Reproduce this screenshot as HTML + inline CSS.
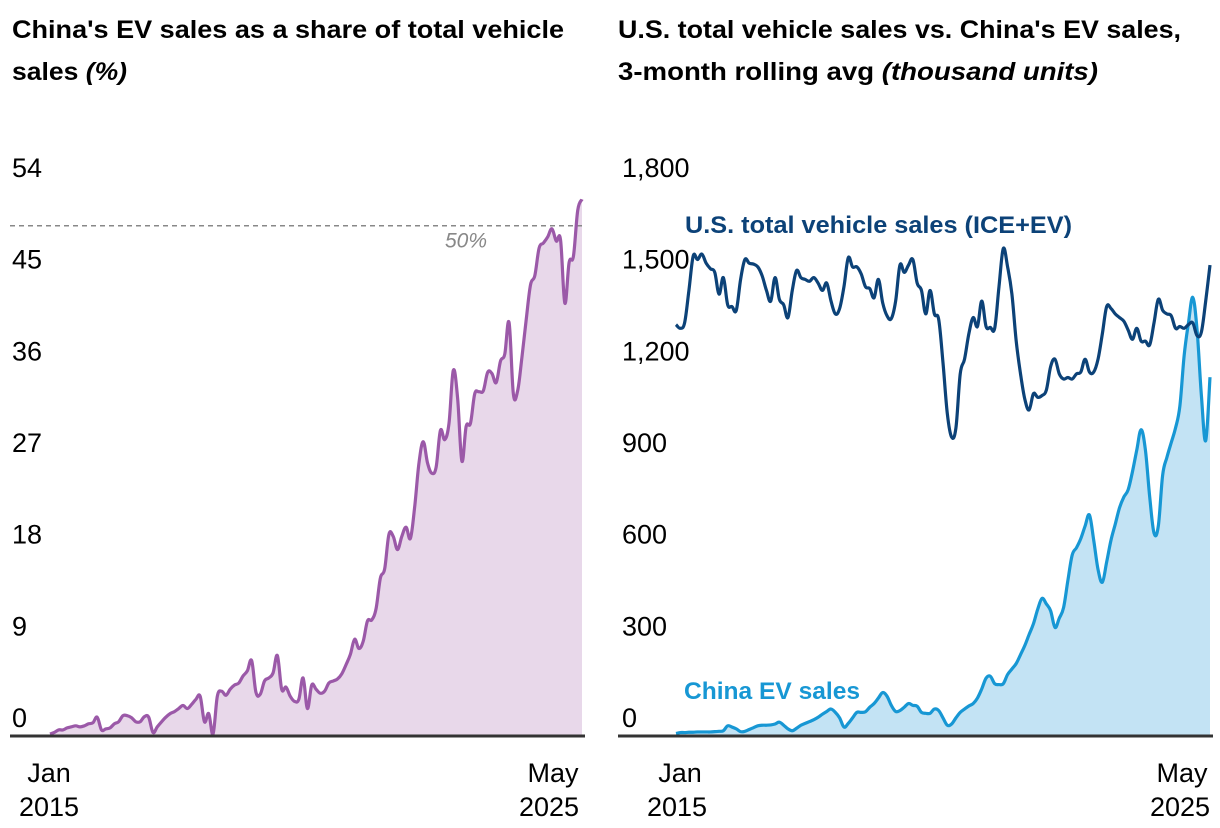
<!DOCTYPE html>
<html><head><meta charset="utf-8">
<style>
html,body{margin:0;padding:0;background:#fff;}
svg{display:block;font-family:"Liberation Sans",sans-serif;}
</style></head>
<body>
<svg id="chart" width="1220" height="828" viewBox="0 0 1220 828">
  <g font-weight="bold" font-size="25" fill="#000">
    <text x="12" y="38" textLength="552" lengthAdjust="spacingAndGlyphs">China's EV sales as a share of total vehicle</text>
    <text x="12" y="80" textLength="115" lengthAdjust="spacingAndGlyphs">sales <tspan font-style="italic">(%)</tspan></text>
  </g>
  <g font-weight="bold" font-size="25" fill="#000">
    <text x="618" y="38" textLength="563" lengthAdjust="spacingAndGlyphs">U.S. total vehicle sales vs. China's EV sales,</text>
    <text x="618" y="80" textLength="480" lengthAdjust="spacingAndGlyphs">3-month rolling avg <tspan font-style="italic">(thousand units)</tspan></text>
  </g>
  <g id="left"></g>
  <g id="right"></g>
</svg>
<script>
const shareValues = [0.1,0.25,0.5,0.5,0.7,0.8,0.9,0.8,0.9,1.1,1.2,1.75,0.5,0.6,0.7,1.1,1.3,1.9,1.9,1.7,1.3,1.3,1.8,1.75,0.25,0.8,1.3,1.75,2.1,2.3,2.6,2.9,2.6,3.0,3.5,3.8,1.3,2.1,0.1,3.8,4.3,3.9,4.5,4.9,5.1,5.8,6.3,7.3,4.2,4.0,5.3,5.6,6.1,7.8,4.5,4.7,3.8,3.3,3.5,5.6,2.6,4.9,4.5,4.1,4.3,5.1,5.3,5.5,6.0,6.9,7.9,9.4,8.5,9.2,11.2,11.3,12.4,15.4,16.3,19.7,19.5,18.2,19.5,20.4,19.3,22.4,26.7,28.8,26.7,25.7,26.3,29.9,29.0,30.6,35.8,33.1,26.9,30.3,30.6,33.5,33.7,33.8,35.6,35.5,34.6,36.7,37.4,40.5,33.5,33.8,37.1,40.8,44.2,45.1,47.8,48.3,48.9,49.7,48.5,48.6,42.4,46.4,47.0,51.5,52.6];
const usSales = [1343,1331,1349,1455,1568,1556,1574,1544,1526,1514,1443,1497,1408,1402,1390,1491,1556,1544,1541,1532,1503,1455,1420,1497,1426,1408,1366,1455,1520,1497,1491,1485,1497,1479,1455,1479,1420,1378,1396,1467,1562,1532,1532,1509,1467,1461,1431,1491,1414,1372,1363,1420,1538,1514,1538,1556,1479,1455,1378,1455,1378,1360,1218,1052,975,1005,1182,1230,1313,1366,1337,1420,1337,1334,1331,1467,1592,1532,1443,1289,1182,1099,1064,1117,1105,1111,1129,1206,1230,1182,1165,1170,1165,1182,1188,1230,1188,1188,1230,1313,1402,1396,1378,1366,1354,1325,1295,1331,1289,1289,1277,1349,1426,1390,1378,1372,1331,1337,1331,1343,1349,1307,1319,1420,1538];
const chinaEv = [5,8,8,9,9,10,10,10,10,11,12,14,30,26,20,11,12,18,24,30,32,32,33,36,42,32,20,14,22,32,38,44,50,58,68,77,85,74,56,26,38,56,74,74,76,91,103,121,139,127,97,77,80,91,103,97,94,74,71,71,85,80,56,32,36,56,74,85,95,103,121,151,186,192,168,165,168,198,216,234,263,293,329,364,412,447,429,406,352,382,417,506,589,613,643,684,720,637,542,500,566,637,690,744,779,803,862,933,999,933,779,661,684,850,909,957,1005,1076,1242,1349,1432,1325,1111,963,1171];
const leftTicks = [0,9,18,27,36,45,54];
const leftTickLabels = ["0","9","18","27","36","45","54"];
const rightTicks = [0,300,600,900,1200,1500,1800];
const rightTickLabels = ["0","300","600","900","1,200","1,500","1,800"];
const refLineValue = 50;

const NS = "http://www.w3.org/2000/svg";
function mk(parent, tag, attrs, text){
  const e = document.createElementNS(NS, tag);
  for (const k in attrs) e.setAttribute(k, attrs[k]);
  if (text !== undefined) e.textContent = text;
  parent.appendChild(e);
  return e;
}
function smoothPath(pts){
  let d = "M" + pts[0][0].toFixed(2) + "," + pts[0][1].toFixed(2);
  const t = 0.18;
  for (let i = 0; i < pts.length - 1; i++){
    const p0 = pts[Math.max(0,i-1)], p1 = pts[i], p2 = pts[i+1], p3 = pts[Math.min(pts.length-1,i+2)];
    const c1x = p1[0] + (p2[0]-p0[0])*t, c1y = p1[1] + (p2[1]-p0[1])*t;
    const c2x = p2[0] - (p3[0]-p1[0])*t, c2y = p2[1] - (p3[1]-p1[1])*t;
    d += "C" + c1x.toFixed(2)+","+c1y.toFixed(2)+" "+c2x.toFixed(2)+","+c2y.toFixed(2)+" "+p2[0].toFixed(2)+","+p2[1].toFixed(2);
  }
  return d;
}
const baseY = 735, topY = 185;

// LEFT
const L = document.getElementById('left');
const lx0 = 50, lx1 = 582, lMax = 54;
const lxs = i => lx0 + (lx1 - lx0) * i / (shareValues.length - 1);
const lys = v => baseY - (baseY - topY) * v / lMax;
leftTicks.forEach((v, i) => {
  const t = mk(L, 'text', {x: 12, y: lys(v) - 8, 'font-size': 27, fill: '#000'}, leftTickLabels[i]);
  
  
});
const lpts = shareValues.map((v, i) => [lxs(i), lys(v)]);
const lline = smoothPath(lpts);
const la = mk(L, 'path', {d: lline + "L" + lx1 + "," + baseY + "L" + lx0 + "," + baseY + "Z", fill: '#e8d8ea'});


const rl = mk(L, 'line', {x1: 10, x2: lx1, y1: lys(refLineValue), y2: lys(refLineValue), stroke: '#888', 'stroke-width': 1.5, 'stroke-dasharray': '5,4'});


const rlt = mk(L, 'text', {x: 445, y: lys(refLineValue) + 22, 'font-size': 21, 'font-style': 'italic', fill: '#888'}, '50%');


const ll = mk(L, 'path', {d: lline, fill: 'none', stroke: '#9b59a8', 'stroke-width': 3.2, 'stroke-linejoin': 'round'});


const lax = mk(L, 'line', {x1: 10, x2: 585, y1: baseY + 1, y2: baseY + 1, stroke: '#333', 'stroke-width': 3});


[['Jan', 49, 782], ['2015', 49, 816], ['May', 553, 782], ['2025', 549, 816]].forEach(a => {
  const t = mk(L, 'text', {x: a[1], y: a[2], 'font-size': 27, 'text-anchor': 'middle', fill: '#000'}, a[0]);
  
  
});

// RIGHT
const R = document.getElementById('right');
const rx0 = 676, rx1 = 1210, rMax = 1800;
const rxs = i => rx0 + (rx1 - rx0) * i / (usSales.length - 1);
const rys = v => baseY - (baseY - topY) * v / rMax;
rightTicks.forEach((v, i) => {
  const t = mk(R, 'text', {x: 622, y: rys(v) - 8, 'font-size': 27, fill: '#000'}, rightTickLabels[i]);
  
  
});
const cline = smoothPath(chinaEv.map((v, i) => [rxs(i), rys(v)]));
const ca = mk(R, 'path', {d: cline + "L" + rx1 + "," + baseY + "L" + rx0 + "," + baseY + "Z", fill: '#c3e3f4'});


const cl = mk(R, 'path', {d: cline, fill: 'none', stroke: '#1797d4', 'stroke-width': 3.2, 'stroke-linejoin': 'round'});


const ul = mk(R, 'path', {d: smoothPath(usSales.map((v, i) => [rxs(i), rys(v)])), fill: 'none', stroke: '#0c4278', 'stroke-width': 3.2, 'stroke-linejoin': 'round'});


const rax = mk(R, 'line', {x1: 618, x2: 1213, y1: baseY + 1, y2: baseY + 1, stroke: '#333', 'stroke-width': 3});


const usl = mk(R, 'text', {x: 685, y: 233, 'font-size': 24, 'font-weight': 'bold', fill: '#0c4278', textLength: 387, lengthAdjust: 'spacingAndGlyphs'}, 'U.S. total vehicle sales (ICE+EV)');


const cvl = mk(R, 'text', {x: 684, y: 699, 'font-size': 24, 'font-weight': 'bold', fill: '#1797d4', textLength: 176, lengthAdjust: 'spacingAndGlyphs'}, 'China EV sales');


[['Jan', 680, 782], ['2015', 677, 816], ['May', 1182, 782], ['2025', 1180, 816]].forEach(a => {
  const t = mk(R, 'text', {x: a[1], y: a[2], 'font-size': 27, 'text-anchor': 'middle', fill: '#000'}, a[0]);
  
  
});
</script>
</body></html>
